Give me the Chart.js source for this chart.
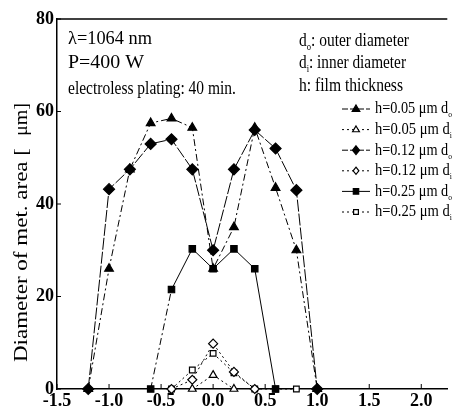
<!DOCTYPE html>
<html>
<head>
<meta charset="utf-8">
<script src="https://cdn.jsdelivr.net/npm/chart.js@4.4.1/dist/chart.umd.min.js"></script>
<style>
  html, body { margin: 0; padding: 0; background: #fff; }
  #wrap { width: 454px; height: 414px; }
</style>
</head>
<body>
<div id="wrap"><canvas id="myLineChart"></canvas></div>
<script>
// positions along the sample (x axis) and tick labels
const xTicks = [-1.5, -1.0, -0.5, 0.0, 0.5, 1.0, 1.5, 2.0];
const yTicks = [0, 20, 40, 60, 80];

// outer diameter (filled markers)
const xOuter05 = [-1.2, -1.0, -0.8, -0.6, -0.4, -0.2, 0.0, 0.2, 0.4, 0.6, 0.8, 1.0];
const outer05  = [0, 26, 47.5, 57.5, 58.5, 56.5, 26, 35, 56.5, 43.5, 30, 0];
const xOuter12 = [-1.2, -1.0, -0.8, -0.6, -0.4, -0.2, 0.0, 0.2, 0.4, 0.6, 0.8, 1.0];
const outer12  = [0, 43.2, 47.5, 53, 54, 47.5, 30, 47.5, 56, 52, 43, 0];
const xOuter25 = [-0.6, -0.4, -0.2, 0.0, 0.2, 0.4, 0.6];
const outer25  = [0, 21.5, 30.3, 26, 30.3, 26, 0];

// inner diameter (open markers)
const xInner05 = [-0.2, 0.0, 0.2];
const inner05  = [0, 3, 0];
const xInner12 = [-0.4, -0.2, 0.0, 0.2, 0.4];
const inner12  = [0, 2, 9.8, 3.7, 0];
const xInner25 = [-0.4, -0.2, 0.0, 0.2, 0.4, 0.6, 0.8];
const inner25  = [0, 4.1, 7.7, 3.5, 0, 0, 0];

const SERIF = '"Liberation Serif", "DejaVu Serif", serif';

function pts(xs, ys) {
    return xs.map((x, i) => ({ x: x, y: ys[i] }));
}

const series = [
    { label: 'h=0.05 μm', sub: 'o', data: pts(xOuter05, outer05), style: 'triangle', filled: true, dash: [7, 3, 2, 3], r: 5 },
    { label: 'h=0.05 μm', sub: 'i', data: pts(xInner05, inner05), style: 'triangle', filled: false, dash: [2, 3], r: 4.5 },
    { label: 'h=0.12 μm', sub: 'o', data: pts(xOuter12, outer12), style: 'rectRot', filled: true, dash: [12, 2], r: 5.5 },
    { label: 'h=0.12 μm', sub: 'i', data: pts(xInner12, inner12), style: 'rectRot', filled: false, dash: [2, 3], r: 4.5 },
    { label: 'h=0.25 μm', sub: 'o', data: pts(xOuter25, outer25), style: 'rect', filled: true, dash: [], r: 4.5, firstDash: [7, 3, 2, 3] },
    { label: 'h=0.25 μm', sub: 'i', data: pts(xInner25, inner25), style: 'rect', filled: false, dash: [2, 3], r: 4 }
];

// draw a run of text pieces squeezed to a given width
function drawRich(ctx, parts, x, y, width) {
    ctx.save();
    let nat = 0;
    parts.forEach(p => {
        ctx.font = p.size + 'px ' + SERIF;
        nat += ctx.measureText(p.t).width;
    });
    ctx.translate(x, y);
    ctx.scale(width / nat, 1);
    let cx = 0;
    parts.forEach(p => {
        ctx.font = p.size + 'px ' + SERIF;
        ctx.fillText(p.t, cx, p.dy || 0);
        cx += ctx.measureText(p.t).width;
    });
    ctx.restore();
}

function drawMarker(ctx, style, filled, x, y, r) {
    ctx.save();
    ctx.fillStyle = filled ? '#000' : '#fff';
    ctx.strokeStyle = '#000';
    ctx.lineWidth = 1.2;
    ctx.setLineDash([]);
    ctx.beginPath();
    if (style === 'triangle') {
        ctx.moveTo(x, y - r);
        ctx.lineTo(x + r * 0.95, y + r * 0.6);
        ctx.lineTo(x - r * 0.95, y + r * 0.6);
        ctx.closePath();
    } else if (style === 'rectRot') {
        ctx.moveTo(x, y - r);
        ctx.lineTo(x + r * 0.8, y);
        ctx.lineTo(x, y + r);
        ctx.lineTo(x - r * 0.8, y);
        ctx.closePath();
    } else {
        ctx.rect(x - r * 0.75, y - r * 0.75, r * 1.5, r * 1.5);
    }
    ctx.fill();
    ctx.stroke();
    ctx.restore();
}

const decor = {
    id: 'decor',
    afterDraw(chart) {
        const ctx = chart.ctx;
        const a = chart.chartArea;
        const xs = chart.scales.x, ys = chart.scales.y;
        ctx.save();
        ctx.strokeStyle = '#000';
        ctx.fillStyle = '#000';

        // top frame line
        ctx.lineWidth = 1.5;
        ctx.beginPath();
        ctx.moveTo(a.left, a.top);
        ctx.lineTo(a.right, a.top);
        ctx.stroke();

        // inward tick marks
        ctx.lineWidth = 1;
        xTicks.forEach(v => {
            const px = xs.getPixelForValue(v);
            ctx.beginPath();
            ctx.moveTo(px, a.bottom);
            ctx.lineTo(px, a.bottom - 5);
            ctx.stroke();
        });
        yTicks.forEach(v => {
            const py = ys.getPixelForValue(v);
            ctx.beginPath();
            ctx.moveTo(a.left, py);
            ctx.lineTo(a.left + 4, py);
            ctx.stroke();
        });

        // notes
        ctx.textBaseline = 'middle';
        drawRich(ctx, [{ t: 'λ=1064 nm', size: 18 }], 68, 39, 84);
        drawRich(ctx, [{ t: 'P=400 W', size: 18 }], 68, 63, 76);
        drawRich(ctx, [{ t: 'electroless plating: 40 min.', size: 18 }], 68, 89, 168);
        drawRich(ctx, [{ t: 'd', size: 18 }, { t: 'o', size: 10, dy: 6 }, { t: ': outer diameter', size: 18 }], 299, 41, 110);
        drawRich(ctx, [{ t: 'd', size: 18 }, { t: 'i', size: 10, dy: 6 }, { t: ': inner diameter', size: 18 }], 299, 63, 107);
        drawRich(ctx, [{ t: 'h: film thickness', size: 18 }], 299, 86, 104);

        // legend
        series.forEach((s, i) => {
            const y = 109 + i * 20.6;
            ctx.save();
            ctx.lineWidth = 1;
            ctx.setLineDash(s.filled ? (s.dash.length ? [6, 2] : []) : [2, 3]);
            ctx.beginPath();
            ctx.moveTo(342, y);
            ctx.lineTo(370, y);
            ctx.stroke();
            ctx.restore();
            drawMarker(ctx, s.style, s.filled, 356, y, s.r * 0.8);
            drawRich(ctx, [{ t: s.label + ' d', size: 17 }, { t: s.sub, size: 9, dy: 6 }], 375, y, 77);
        });

        // y axis title, rotated
        ctx.translate(22, 0);
        ctx.rotate(-Math.PI / 2);
        drawRich(ctx, [{ t: 'Diameter of met. area [', size: 19 }], -362, 0, 214);
        drawRich(ctx, [{ t: 'μm]', size: 19 }], -136, 0, 33);
        ctx.restore();
    }
};

const ctx = document.getElementById('myLineChart');
if (ctx) {
    new Chart(ctx.getContext('2d'), {
        type: 'line',
        data: {
            datasets: series.map(s => ({
                label: s.label + ' d' + s.sub,
                data: s.data,
                borderColor: '#000',
                borderWidth: 1,
                borderDash: s.dash,
                segment: s.firstDash ? { borderDash: c => (c.p0DataIndex === 0 ? s.firstDash : s.dash) } : undefined,
                backgroundColor: s.filled ? '#000' : '#fff',
                pointStyle: s.style,
                pointRadius: s.r,
                pointBorderWidth: 1.2,
                pointBorderColor: '#000',
                pointBackgroundColor: s.filled ? '#000' : '#fff',
                tension: 0,
                fill: false,
                clip: false
            }))
        },
        options: {
            responsive: true,
            maintainAspectRatio: false,
            animation: false,
            layout: { padding: { top: 19, right: 0, left: 0, bottom: 0 } },
            plugins: {
                legend: { display: false },
                tooltip: { enabled: false }
            },
            scales: {
                x: {
                    type: 'linear',
                    min: -1.5,
                    max: 2.25,
                    afterBuildTicks: s => { s.ticks = xTicks.map(v => ({ value: v })); },
                    afterFit: s => { s.height = 25; },
                    ticks: {
                        autoSkip: false,
                        maxRotation: 0,
                        padding: 2,
                        color: '#000',
                        font: { family: SERIF, size: 18, weight: 'bold' },
                        callback: v => v.toFixed(1)
                    },
                    grid: { drawOnChartArea: false, drawTicks: false },
                    border: { color: '#000', width: 1.5 }
                },
                y: {
                    min: 0,
                    max: 80,
                    afterBuildTicks: s => { s.ticks = yTicks.map(v => ({ value: v })); },
                    afterFit: s => { s.width = 57; },
                    ticks: {
                        padding: 3,
                        color: '#000',
                        font: { family: SERIF, size: 18, weight: 'bold' }
                    },
                    grid: { drawOnChartArea: false, drawTicks: false },
                    border: { color: '#000', width: 1.5 }
                }
            }
        },
        plugins: [decor]
    });
} else {
    console.error("Canvas element with id 'myLineChart' not found.");
}
</script>
</body>
</html>
